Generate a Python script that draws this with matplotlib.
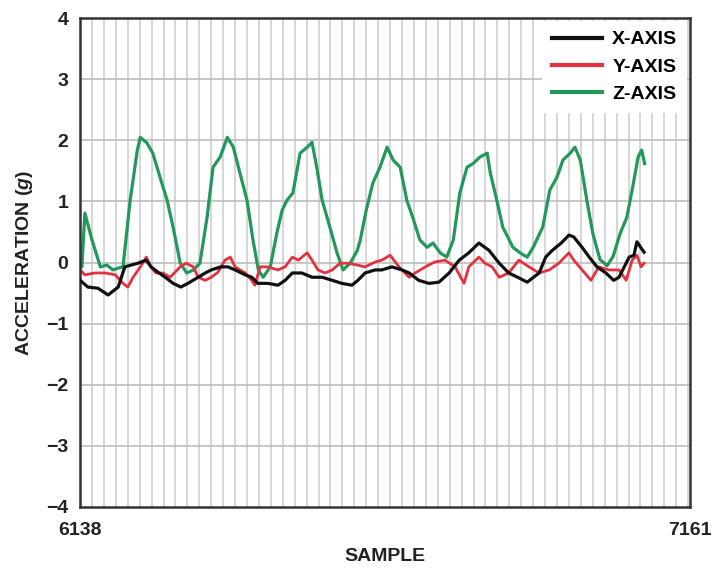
import matplotlib
matplotlib.use('Agg')
import matplotlib.pyplot as plt
import numpy as np

plt.rcParams['font.family'] = ['Liberation Sans', 'DejaVu Sans']
plt.rcParams['font.weight'] = 'bold'
plt.rcParams['mathtext.fontset'] = 'custom'
plt.rcParams['mathtext.it'] = 'Liberation Sans:italic:bold'
plt.rcParams['mathtext.rm'] = 'Liberation Sans:bold'

# sample range and axis ticks
x_start, x_end = 6138, 7161
y_ticks = [-4, -3, -2, -1, 0, 1, 2, 3, 4]

# X-AXIS (black)
x_samp = [6138, 6151, 6168, 6185, 6202, 6213, 6224, 6235, 6249, 6257, 6269, 6281,
          6294, 6307, 6319, 6336, 6348, 6358, 6374, 6386, 6398, 6415, 6426, 6436,
          6453, 6470, 6482, 6494, 6510, 6527, 6544, 6561, 6577, 6594, 6604, 6616,
          6633, 6644, 6661, 6678, 6690, 6706, 6723, 6740, 6757, 6774, 6790, 6807,
          6824, 6841, 6857, 6874, 6888, 6908, 6919, 6930, 6945, 6958, 6966, 6980,
          6992, 7005, 7020, 7033, 7042, 7059, 7067, 7072, 7079, 7084]
x_acc = [-0.29, -0.40, -0.42, -0.53, -0.40, -0.07, -0.04, -0.01, 0.04, -0.07, -0.16, -0.24,
         -0.34, -0.40, -0.34, -0.24, -0.17, -0.12, -0.07, -0.07, -0.12, -0.20, -0.24, -0.34,
         -0.34, -0.37, -0.29, -0.17, -0.17, -0.24, -0.24, -0.29, -0.34, -0.37, -0.29, -0.17,
         -0.12, -0.12, -0.07, -0.12, -0.17, -0.29, -0.34, -0.32, -0.17, 0.04, 0.16, 0.32,
         0.20, -0.01, -0.17, -0.25, -0.32, -0.17, 0.09, 0.20, 0.32, 0.45, 0.42, 0.25,
         0.09, -0.07, -0.17, -0.29, -0.24, 0.09, 0.12, 0.34, 0.24, 0.17]

# Y-AXIS (red)
y_samp = [6138, 6146, 6163, 6180, 6197, 6210, 6218, 6227, 6239, 6249, 6257, 6265,
          6277, 6289, 6297, 6306, 6316, 6328, 6336, 6348, 6358, 6369, 6381, 6390,
          6398, 6415, 6426, 6431, 6440, 6453, 6470, 6482, 6494, 6504, 6519, 6527,
          6537, 6549, 6561, 6574, 6587, 6603, 6616, 6633, 6644, 6658, 6673, 6690,
          6700, 6717, 6733, 6750, 6767, 6782, 6790, 6807, 6817, 6829, 6841, 6857,
          6874, 6891, 6908, 6925, 6941, 6958, 6966, 6980, 6995, 7008, 7025, 7042,
          7054, 7064, 7072, 7079, 7084]
y_acc = [-0.12, -0.20, -0.17, -0.17, -0.20, -0.34, -0.40, -0.24, -0.07, 0.09, -0.07, -0.17,
         -0.17, -0.24, -0.16, -0.07, -0.01, -0.07, -0.24, -0.29, -0.24, -0.16, 0.04, 0.09,
         -0.07, -0.17, -0.29, -0.37, -0.07, -0.07, -0.12, -0.07, 0.09, 0.04, 0.16, 0.04,
         -0.12, -0.17, -0.12, -0.01, -0.01, -0.04, -0.07, 0.01, 0.04, 0.12, -0.07, -0.24,
         -0.17, -0.07, 0.01, 0.04, -0.07, -0.34, -0.07, 0.09, -0.01, -0.07, -0.24, -0.17,
         0.04, -0.07, -0.17, -0.12, -0.01, 0.16, 0.04, -0.12, -0.29, -0.07, -0.12, -0.12,
         -0.29, 0.04, 0.12, -0.07, -0.01]

# Z-AXIS (green)
z_samp = [6138, 6141, 6146, 6158, 6172, 6183, 6193, 6202, 6210, 6222, 6234, 6239,
          6250, 6260, 6272, 6284, 6294, 6306, 6317, 6328, 6339, 6351, 6361, 6373,
          6385, 6395, 6406, 6418, 6428, 6437, 6445, 6457, 6468, 6477, 6485, 6495,
          6507, 6519, 6527, 6535, 6544, 6557, 6569, 6579, 6591, 6603, 6608, 6618,
          6629, 6641, 6653, 6663, 6675, 6686, 6696, 6708, 6720, 6730, 6742, 6753,
          6764, 6775, 6787, 6797, 6809, 6821, 6826, 6837, 6847, 6864, 6876, 6888,
          6898, 6914, 6926, 6938, 6948, 6960, 6968, 6977, 6988, 6998, 7010, 7022,
          7032, 7044, 7055, 7065, 7074, 7080, 7085]
z_acc = [0.01, -0.07, 0.81, 0.37, -0.07, -0.04, -0.12, -0.09, -0.07, 1.02, 1.84, 2.05,
         1.96, 1.79, 1.40, 1.02, 0.58, -0.01, -0.17, -0.12, -0.01, 0.74, 1.56, 1.73,
         2.05, 1.89, 1.47, 1.02, 0.37, -0.12, -0.24, -0.07, 0.48, 0.86, 1.02, 1.14,
         1.79, 1.89, 1.97, 1.56, 1.02, 0.58, 0.16, -0.12, -0.01, 0.20, 0.37, 0.86,
         1.30, 1.56, 1.89, 1.68, 1.56, 1.02, 0.74, 0.37, 0.25, 0.32, 0.16, 0.09,
         0.37, 1.14, 1.56, 1.62, 1.73, 1.79, 1.47, 1.02, 0.58, 0.25, 0.16, 0.09,
         0.25, 0.58, 1.19, 1.40, 1.68, 1.79, 1.89, 1.68, 1.02, 0.48, 0.05, -0.05,
         0.10, 0.48, 0.74, 1.24, 1.73, 1.84, 1.62]

fig = plt.figure(figsize=(7.15, 5.69), dpi=100)
ax = fig.add_axes([0.112, 0.109, 0.853, 0.859])

# grid: vertical every 20 samples, horizontal at each g
for xv in np.arange(x_start + 20, x_end, 20):
    ax.axvline(xv, color='#cfcfcf', lw=1.2, zorder=0)
for yv in y_ticks[1:-1]:
    ax.axhline(yv, color='#bdbdbd', lw=1.2, zorder=0)

ax.plot(x_samp, x_acc, color='#111111', lw=2.3, label='X-AXIS', zorder=3)
ax.plot(y_samp, y_acc, color='#e2323f', lw=2.0, label='Y-AXIS', zorder=2)
ax.plot(z_samp, z_acc, color='#23985a', lw=2.3, label='Z-AXIS', zorder=1)

ax.set_xlim(x_start, x_end)
ax.set_ylim(-4, 4)
ax.set_xticks([x_start, x_end])
ax.set_yticks(y_ticks)
ax.tick_params(axis='both', length=0, labelsize=14, colors='#222222')
ax.tick_params(axis='y', pad=8.5)
ax.tick_params(axis='x', pad=11)
for s in ax.spines.values():
    s.set_linewidth(1.8)
    s.set_color('#333333')

ax.set_xlabel('SAMPLE', fontsize=14, fontweight='bold', labelpad=6, color='#222222')
ax.set_ylabel('ACCELERATION ($\\mathit{g}$)', fontsize=14, fontweight='bold',
              labelpad=8, color='#222222')

leg = ax.legend(loc='upper right', fontsize=14, frameon=True, fancybox=False,
                edgecolor='none', facecolor='white', framealpha=1.0,
                borderaxespad=0.15, borderpad=0.5, handlelength=2.6,
                handletextpad=0.5, labelspacing=0.5)
for line in leg.get_lines():
    line.set_linewidth(3.0)
leg.set_zorder(5)

plt.savefig('out.png', dpi=100)
